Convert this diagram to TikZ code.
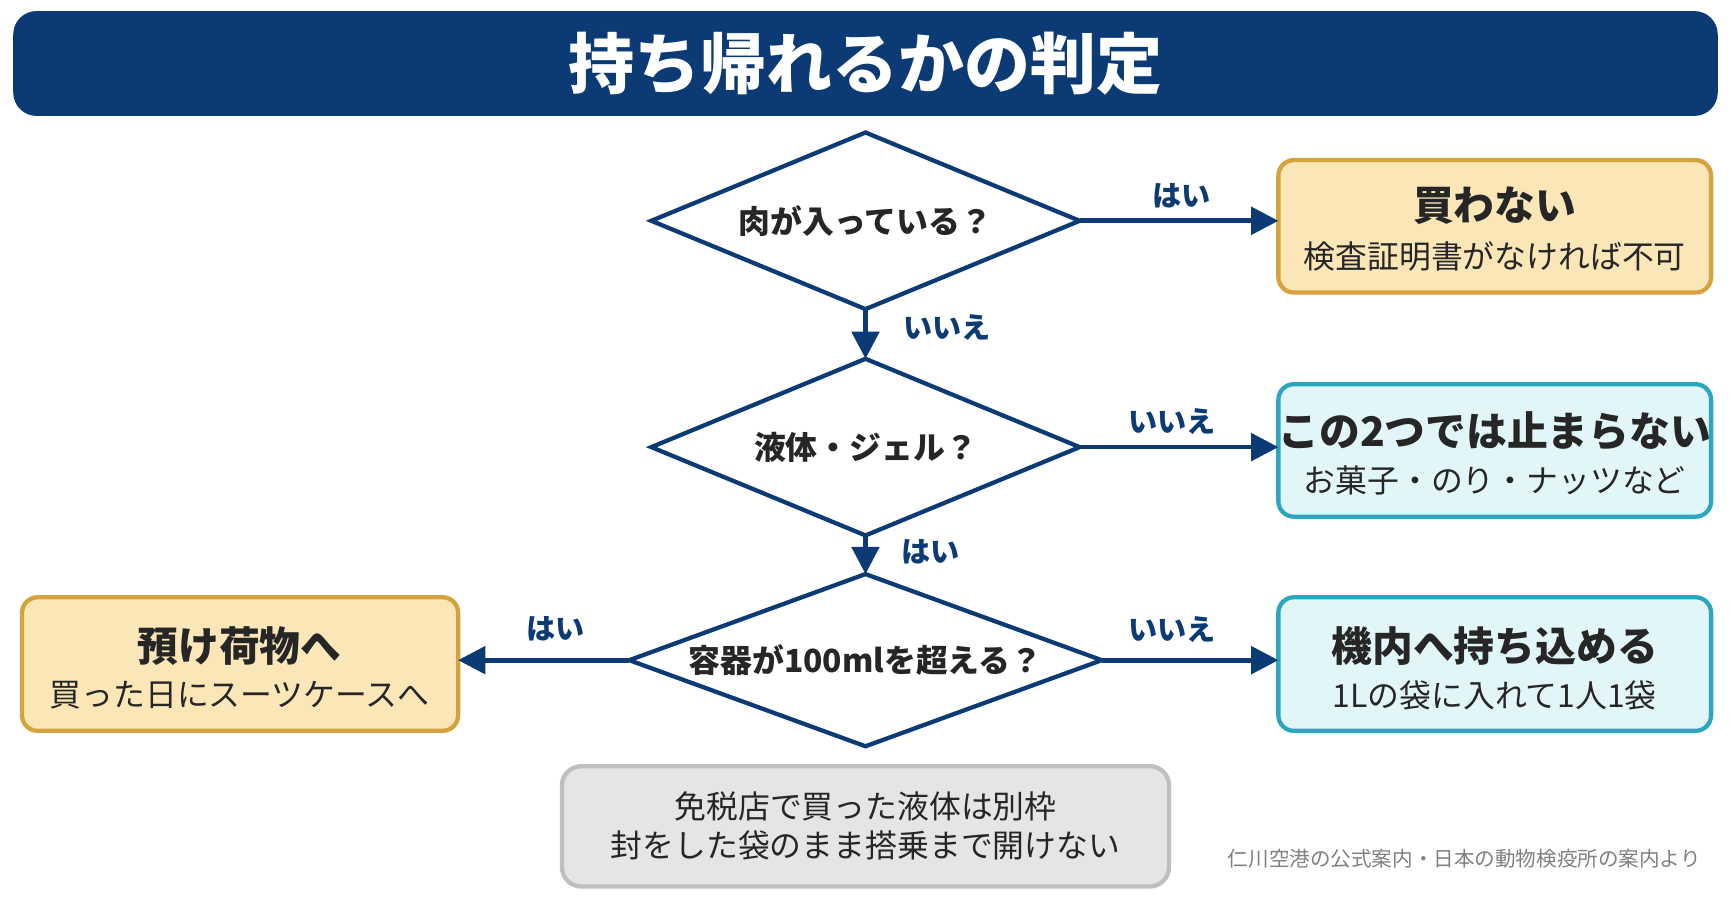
\documentclass[tikz,border=0pt]{standalone}
\usepackage{fontspec}
\setmainfont{Noto Sans CJK JP}
\usetikzlibrary{shapes.geometric,arrows.meta}
\definecolor{navy}{HTML}{0B3A75}
\definecolor{ybg}{HTML}{FBE6B8}
\definecolor{yb}{HTML}{D6A23C}
\definecolor{cbg}{HTML}{E2F6FA}
\definecolor{cb}{HTML}{2AA6BE}
\begin{document}
\begin{tikzpicture}[x=0.01cm,y=-0.01cm,
 dia/.style={draw=navy,line width=1.1pt,fill=white},
 q/.style={font=\fontsize{8.2}{10}\selectfont\bfseries,text=black!85},
 arr/.style={draw=navy,line width=1.2pt,-{Triangle[length=7pt,width=7pt]}},
 lab/.style={font=\fontsize{7.5}{9}\selectfont\bfseries,text=navy},
 ybox/.style={draw=yb,fill=ybg,line width=1.1pt,rounded corners=4pt},
 cbox/.style={draw=cb,fill=cbg,line width=1.1pt,rounded corners=4pt},
 h/.style={font=\fontsize{10.5}{12}\selectfont\bfseries,text=black!85},
 s/.style={font=\fontsize{8.2}{10}\selectfont,text=black!85}]
\useasboundingbox (0,0) rectangle (1568,823);
\fill[white] (0,0) rectangle (1568,823);
\fill[navy,rounded corners=6pt] (12,10) rectangle (1556,105);
\node[font=\fontsize{17}{20}\selectfont\bfseries,text=white] (title) at (784,58) {持ち帰れるかの判定};
% diamonds
\draw[dia] (590,200) coordinate (d1l) -- (784,120) -- (978,200) coordinate (d1r) -- (784,280) coordinate (d1b) -- cycle;
\node[q] (q1) at (784,200) {肉が入っている？};
\draw[dia] (590,405) -- (784,325) coordinate (d2t) -- (978,405) coordinate (d2r) -- (784,485) coordinate (d2b) -- cycle;
\node[q] (q2) at (784,405) {液体・ジェル？};
\draw[dia] (570,598) coordinate (d3l) -- (784,520) coordinate (d3t) -- (998,598) coordinate (d3r) -- (784,676) -- cycle;
\node[q] (q3) at (784,598) {容器が100mlを超える？};
% boxes
\draw[ybox] (1158,145) rectangle (1550,265);
\coordinate (b1) at (1158,200);
\node[h] (b1h) at (1354,186) {買わない};
\node[s] (b1s) at (1354,232) {検査証明書がなければ不可};
\draw[cbox] (1158,348) rectangle (1550,468);
\coordinate (b2) at (1158,405);
\node[h] (b2h) at (1354,390) {この2つでは止まらない};
\node[s] (b2s) at (1354,435) {お菓子・のり・ナッツなど};
\draw[cbox] (1158,541) rectangle (1550,662);
\coordinate (b3) at (1158,598);
\node[h] (b3h) at (1354,585) {機内へ持ち込める};
\node[s] (b3s) at (1354,630) {1Lの袋に入れて1人1袋};
\draw[ybox] (20,541) rectangle (415,662);
\coordinate (b4) at (415,598);
\node[h] (b4h) at (217,585) {預け荷物へ};
\node[s] (b4s) at (217,630) {買った日にスーツケースへ};
\draw[draw=black!25,fill=black!10,line width=1.1pt,rounded corners=5pt] (509,694) rectangle (1059,803);
\node[s,align=center] (note) at (784,748) {免税店で買った液体は別枠\\封をした袋のまま搭乗まで開けない};
\node[font=\fontsize{5.3}{6}\selectfont,text=black!50,anchor=east] (src) at (1553,778) {仁川空港の公式案内・日本の動物検疫所の案内より};
% arrows
\draw[arr] (d1r) -- (b1);
\draw[arr] (d1b) -- (d2t);
\draw[arr] (d2r) -- (b2);
\draw[arr] (d2b) -- (d3t);
\draw[arr] (d3r) -- (b3);
\draw[arr] (d3l) -- (b4);
\node[lab] (l1) at (1070,177) {はい};
\node[lab] (l2) at (858,297) {いいえ};
\node[lab] (l3) at (1062,382) {いいえ};
\node[lab] (l4) at (843,500) {はい};
\node[lab] (l5) at (503,570) {はい};
\node[lab] (l6) at (1062,570) {いいえ};
\end{tikzpicture}
\end{document}
